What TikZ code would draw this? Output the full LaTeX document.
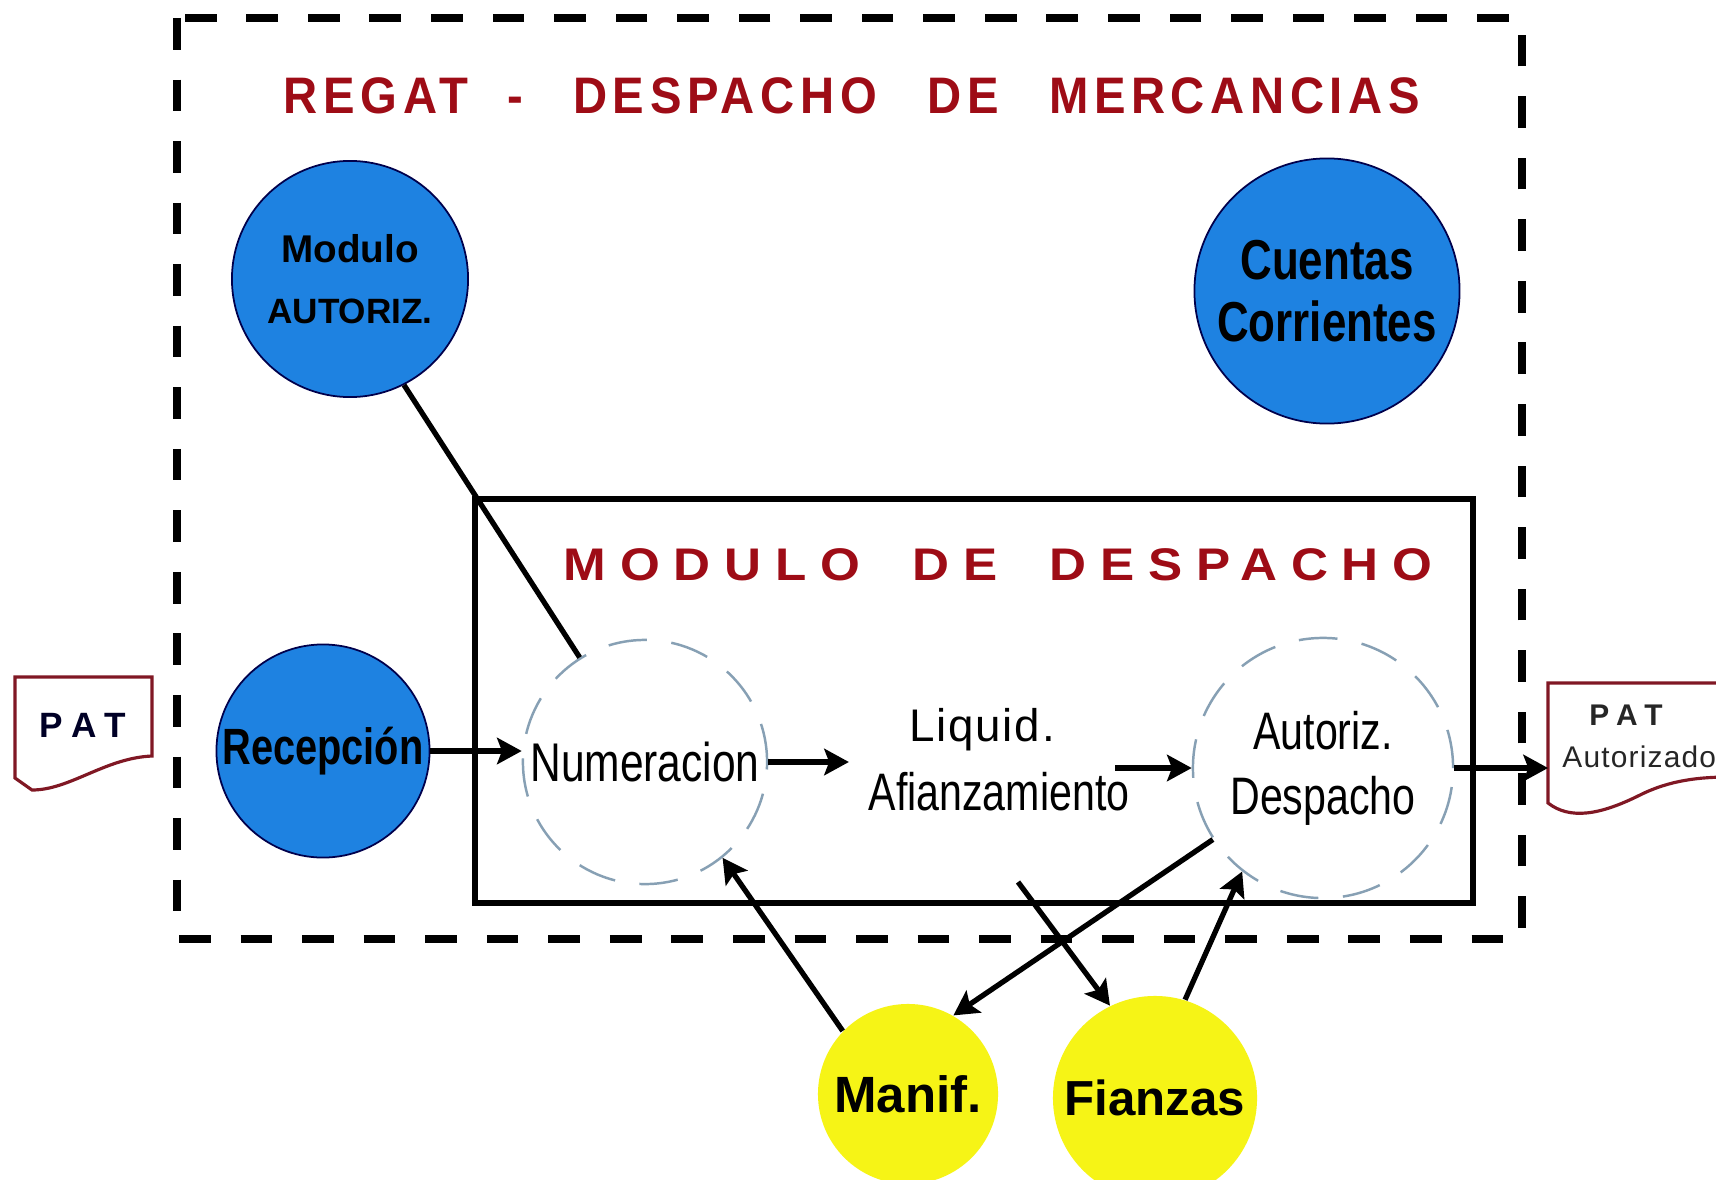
\documentclass[tikz,border=0pt]{standalone}
\usepackage{fontspec}
\setmainfont{Liberation Sans}
\newfontfamily\condfont[FakeStretch=0.78]{Liberation Sans}
\newfontfamily\titlefont[LetterSpace=11,FakeStretch=0.92]{Liberation Sans}
\newfontfamily\boxtitlefont[LetterSpace=30,FakeStretch=1.12]{Liberation Sans}
\newfontfamily\docfont[LetterSpace=30]{Liberation Sans}
\newfontfamily\spacedfont[LetterSpace=4]{Liberation Sans}
\usetikzlibrary{arrows.meta,shapes.geometric,positioning}

\definecolor{regatred}{RGB}{158,12,22}
\definecolor{modblue}{RGB}{30,130,225}
\definecolor{modyellow}{RGB}{246,244,22}
\definecolor{ringgray}{RGB}{135,160,180}
\definecolor{docred}{RGB}{128,24,36}

\tikzset{
  bluemod/.style={circle,fill=modblue,draw=black!70!blue,line width=0.5pt,align=center,inner sep=0pt},
  yellowmod/.style={circle,fill=modyellow,inner sep=0pt,font=\bfseries\fontsize{14.5}{17}\selectfont},
  procring/.style={circle,draw=ringgray,line width=0.7pt,dash pattern=on 11pt off 7pt,align=center,inner sep=0pt,font=\condfont\fontsize{15}{18.5}\selectfont},
  flow/.style={line width=1.5pt,-{Stealth[length=7pt,width=7.5pt,inset=1.4pt]}},
  plainlink/.style={line width=1.5pt},
  docshape/.style={draw=docred,line width=0.9pt,fill=white},
}

\begin{document}
\begin{tikzpicture}[x=0.01cm,y=-0.01cm]
\clip (0,0) rectangle (1716,1179);
\fill[white] (0,0) rectangle (1716,1179);

% REGAT border
\draw[line width=2.3pt,dash pattern=on 9pt off 8.5pt] (177,18) rectangle (1522,939);
\node[text=regatred,font=\titlefont\bfseries\fontsize{14.6}{16}\selectfont] (regat) at (852,96)
  {REGAT\hspace{11pt}-\hspace{9pt} DESPACHO\hspace{9pt} DE\hspace{9pt} MERCANCIAS};

% modulo de despacho
\draw[line width=1.5pt] (475,499) rectangle (1473,903);
\node[text=regatred,font=\boxtitlefont\bfseries\fontsize{13}{15}\selectfont] (moddesp) at (998,565)
  {MODULO\hspace{7pt} DE\hspace{7pt} DESPACHO};

% modulos
\node[bluemod,minimum size=2.36cm,font=\bfseries\fontsize{10}{17.4}\selectfont] (modaut) at (350,279)
  {{\fontsize{11}{17.4}\selectfont Modulo}\\AUTORIZ.};
\node[bluemod,minimum size=2.65cm,font=\condfont\bfseries\fontsize{16}{17.5}\selectfont] (ctacte) at (1327,291)
  {Cuentas\\Corrientes};
\node[bluemod,minimum size=2.13cm,font=\condfont\bfseries\fontsize{14.5}{17}\selectfont] (recep) at (323,751) {Recepción};

% etapas
\node[procring,minimum size=2.44cm,font=\condfont\fontsize{15.5}{18}\selectfont] (numer) at (645,762) {Numeracion};
\node[align=center,inner sep=2pt,font=\condfont\fontsize{15}{19.6}\selectfont] (liq) at (999,760)
  {{\spacedfont\fontsize{13}{19.6}\selectfont Liquid.}\hspace*{0.34cm}\\Afianzamiento};
\node[procring,minimum size=2.6cm,font=\condfont\fontsize{15}{18.5}\selectfont] (autdes) at (1323,768) {Autoriz.\\Despacho};

% externos
\node[yellowmod,minimum size=1.8cm] (manif) at (908,1094) {Manif.};
\node[yellowmod,minimum size=2.04cm,font=\bfseries\fontsize{14}{17}\selectfont] (fianz) at (1155,1098) {Fianzas};

% PAT
\draw[docshape] (15,677) -- (152,677) -- (152,756) .. controls (105,758) and (70,790) .. (32,790) -- (15,778) -- cycle;
\node[font=\docfont\bfseries\fontsize{10}{12}\selectfont,text=black!85!blue] (patin) at (83,725) {PAT};
\draw[docshape] (1730,683) -- (1548,683) -- (1548,803) .. controls (1570,820) and (1600,815) .. (1640,795)
  .. controls (1670,780) and (1700,777) .. (1730,777);
\node[font=\docfont\bfseries\fontsize{8.5}{10}\selectfont,text=black!85] (patout) at (1626,715) {PAT};
\node[anchor=west,font=\spacedfont\fontsize{8.5}{10}\selectfont,text=black!85] (patautz) at (1550,757) {Autorizado};
\coordinate (patdoc) at (1548,768);
\coordinate (liqout) at (1018,882);
\path (liq.east |- autdes.west) coordinate (liqr);

% flujo
\draw[flow] (recep.east) -- (recep.east -| numer.west);
\draw[flow,shorten >=0.12cm] (numer.east) -- (liq.west |- numer.east);
\draw[flow] ([xshift=-0.22cm]liqr) -- (autdes.west);
\draw[flow] (autdes.east) -- (patdoc);
\draw[plainlink] (modaut.-63) -- (numer.122);
\draw[flow] (manif.136) -- (numer.-51);
\draw[flow] (autdes.-147) -- (manif.60);
\draw[flow] (liqout) -- (fianz.116);
\draw[flow] (fianz.73) -- (autdes.-128);
\end{tikzpicture}
\end{document}
